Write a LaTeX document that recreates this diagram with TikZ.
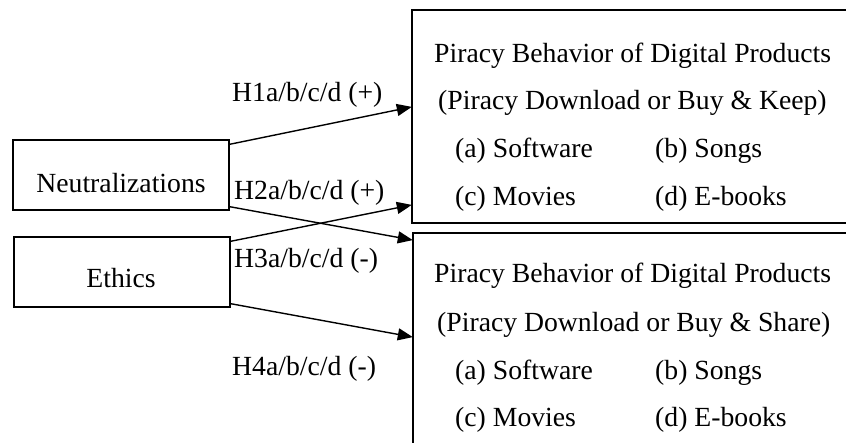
\documentclass[tikz,border=0pt]{standalone}
\usepackage{fontspec}
\setmainfont{Liberation Serif}
\usetikzlibrary{arrows.meta,calc}
\begin{document}
\begin{tikzpicture}[x=1pt,y=-1pt,
  font=\fontsize{27.7}{32}\selectfont,
  box/.style={draw, line width=1.4pt, inner sep=0pt},
  arr/.style={-{Triangle[length=15pt,width=12pt]}, line width=1.4pt, shorten >=-0.5pt},
  txt/.style={anchor=base west, inner sep=0pt},
  ctxt/.style={anchor=base, inner sep=0pt}]
\useasboundingbox (0,0) rectangle (846,443);
\clip (0,0) rectangle (846,443);
% left boxes
\node[box, minimum width=216pt, minimum height=70pt] (neu) at (121,175) {};
\node[box, minimum width=216pt, minimum height=70pt] (eth) at (122,272) {};
\node[ctxt] (neut) at (121,192.5) {Neutralizations};
\node[ctxt] (etht) at (121,288) {Ethics};
% right boxes
\node[box, minimum width=448pt, minimum height=213pt] (keep) at (636,116.5) {};
\node[box, minimum width=448pt, minimum height=227pt] (share) at (637,346.5) {};
% top box text
\node[txt] (k1) at (434,62.5) {Piracy Behavior of Digital Products};
\node[txt] (k2) at (438,110) {(Piracy Download or Buy \& Keep)};
\node[txt] (k3) at (455,158) {(a) Software};
\node[txt] (k4) at (655,158) {(b) Songs};
\node[txt] (k5) at (455,206) {(c) Movies};
\node[txt] (k6) at (655,206) {(d) E-books};
% bottom box text
\node[txt] (s1) at (434,283) {Piracy Behavior of Digital Products};
\node[txt] (s2) at (437,332) {(Piracy Download or Buy \& Share)};
\node[txt] (s3) at (455,380) {(a) Software};
\node[txt] (s4) at (655,380) {(b) Songs};
\node[txt] (s5) at (455,427) {(c) Movies};
\node[txt] (s6) at (655,427) {(d) E-books};
% labels
\node[txt] (h1) at (232,102) {H1a/b/c/d (+)};
\node[txt] (h2) at (234,200) {H2a/b/c/d (+)};
\node[txt] (h3) at (234,268) {H3a/b/c/d (-)};
\node[txt] (h4) at (232,376) {H4a/b/c/d (-)};
% arrows
\draw[arr] ([yshift=-5pt]neu.north east) -- ([yshift=9.5pt]keep.west);
\draw[arr] ([yshift=4pt]neu.south east) -- ([yshift=106.5pt]share.west);
\draw[arr] ([yshift=-5pt]eth.north east) -- ([yshift=-88.5pt]keep.west);
\draw[arr] ([yshift=4pt]eth.south east) -- ([yshift=9.5pt]share.west);
\end{tikzpicture}
\end{document}
